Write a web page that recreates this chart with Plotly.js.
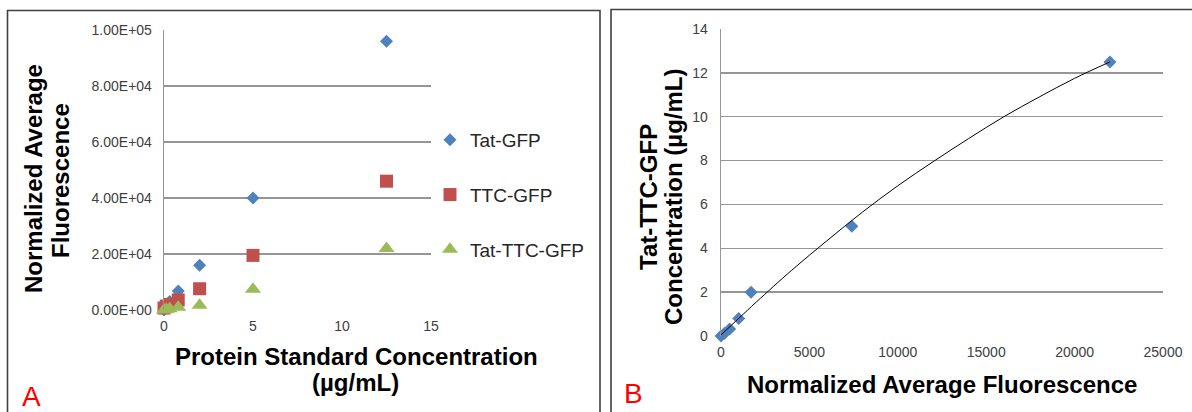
<!DOCTYPE html>
<html>
<head>
<meta charset="utf-8">
<script src="https://cdn.plot.ly/plotly-3.0.1.min.js"></script>
<style>html,body{margin:0;padding:0;background:#fff;}#chart{width:1192px;height:412px;}</style>
</head>
<body>
<div id="chart"></div>
<script>
// Panel A data
var concentrations = [0, 0.128, 0.32, 0.8, 2, 5, 12.5];
var tatGFP = [0, 1000, 3000, 6800, 16000, 40000, 96000];
var ttcGFP = [700, 1400, 2000, 3600, 7600, 19500, 46000];
var tatTtcGFP = [0, 200, 490, 1000, 1700, 7400, 22000];
var seriesNames = ['Tat-GFP', 'TTC-GFP', 'Tat-TTC-GFP'];
var aYTickVals = [0, 20000, 40000, 60000, 80000, 100000];
var aYTickText = ['0.00E+00', '2.00E+04', '4.00E+04', '6.00E+04', '8.00E+04', '1.00E+05'];
var aXTickVals = [0, 5, 10, 15];

// Panel B data
var bFluorescence = [0, 200, 490, 1000, 1700, 7400, 22000];
var bConcentration = [0, 0.128, 0.32, 0.8, 2, 5, 12.5];
var trendX = [0, 1000, 2000, 4000, 6000, 8000, 10000, 12000, 14000, 16000, 18000, 20000, 22000];
var trendY = [0.05, 0.8, 1.55, 3.0, 4.35, 5.65, 6.85, 7.95, 9.0, 10.0, 10.9, 11.75, 12.5];
var bXTickVals = [0, 5000, 10000, 15000, 20000, 25000];
var bXTickText = ['0', '5000', '10000', '15000', '20000', '25000'];
var bYTickVals = [0, 2, 4, 6, 8, 10, 12, 14];

var W = 1192, H = 412;
function px(x) { return x / W; }
function py(y) { return (H - y) / H; }

var FONT = 'Arial, "Liberation Sans", sans-serif';
var GRID = '#969696';
var TICK = '#404040';

var traces = [
  {x: concentrations, y: tatGFP, name: seriesNames[0], type: 'scatter', mode: 'markers',
   xaxis: 'x', yaxis: 'y', cliponaxis: false, legendgroup: 'a',
   marker: {symbol: 'diamond', size: 10, color: '#4F81BD'}},
  {x: concentrations, y: ttcGFP, name: seriesNames[1], type: 'scatter', mode: 'markers',
   xaxis: 'x', yaxis: 'y', cliponaxis: false, legendgroup: 'b',
   marker: {symbol: 'square', size: 13, color: '#C0504D'}},
  {x: concentrations, y: tatTtcGFP, name: seriesNames[2], type: 'scatter', mode: 'markers',
   xaxis: 'x', yaxis: 'y', cliponaxis: false, legendgroup: 'c',
   marker: {symbol: 'triangle-up', size: 14, color: '#9BBB59'}},
  {x: bFluorescence, y: bConcentration, type: 'scatter', mode: 'markers', showlegend: false,
   xaxis: 'x2', yaxis: 'y2', cliponaxis: false,
   marker: {symbol: 'diamond', size: 10, color: '#4F81BD'}},
  {x: trendX, y: trendY, type: 'scatter', mode: 'lines', showlegend: false,
   xaxis: 'x2', yaxis: 'y2', line: {color: '#000', width: 1, shape: 'spline'}}
];

function ann(text, x, y, size, opts) {
  var a = {text: text, x: px(x), y: py(y), xref: 'paper', yref: 'paper', showarrow: false,
    xanchor: 'center', yanchor: 'middle', font: {family: FONT, size: size, color: '#000'}};
  for (var k in opts) a[k] = opts[k];
  return a;
}

var layout = {
  width: W, height: H,
  margin: {l: 0, r: 0, t: 0, b: 0},
  paper_bgcolor: '#fff', plot_bgcolor: '#fff',
  showlegend: true,
  legend: {x: px(430), y: py(121), xanchor: 'left', yanchor: 'top',
    font: {family: FONT, size: 19, color: '#262626'}, traceorder: 'grouped', tracegroupgap: 27,
    itemwidth: 30, bgcolor: 'rgba(0,0,0,0)'},
  xaxis: {domain: [px(164), px(431)], range: [0, 15], tickvals: aXTickVals,
    showgrid: false, zeroline: false, showline: false, anchor: 'y',
    ticks: '', ticklabelstandoff: 6, tickfont: {family: FONT, size: 14, color: TICK}},
  yaxis: {domain: [py(310), py(30)], range: [0, 100000], tickvals: aYTickVals, ticktext: aYTickText,
    showgrid: true, gridcolor: GRID, gridwidth: 1.3, zeroline: false, showline: true, linecolor: GRID, linewidth: 1.3,
    anchor: 'x', ticks: '', ticklabelstandoff: 8, tickfont: {family: FONT, size: 14, color: TICK}},
  xaxis2: {domain: [px(721), px(1163)], range: [0, 25000], tickvals: bXTickVals, ticktext: bXTickText,
    showgrid: false, zeroline: false, showline: false, anchor: 'y2',
    ticks: '', ticklabelstandoff: 6, tickfont: {family: FONT, size: 14, color: TICK}},
  yaxis2: {domain: [py(336), py(29)], range: [0, 14], tickvals: bYTickVals,
    showgrid: true, gridcolor: GRID, gridwidth: 1.3, zeroline: false, showline: true, linecolor: GRID, linewidth: 1.3,
    anchor: 'x2', ticks: '', ticklabelstandoff: 9, tickfont: {family: FONT, size: 14, color: TICK}},
  shapes: [
    {type: 'rect', xref: 'paper', yref: 'paper', x0: px(7.5), x1: px(600), y0: -0.05, y1: py(10.5),
     line: {color: '#404040', width: 1.6}},
    {type: 'rect', xref: 'paper', yref: 'paper', x0: px(611), x1: 1.05, y0: -0.05, y1: py(9.5),
     line: {color: '#404040', width: 1.6}}
  ],
  annotations: [
    ann('<b>Normalized Average</b>', 33, 179, 24, {textangle: -90}),
    ann('<b>Fluorescence</b>', 60, 180, 24, {textangle: -90}),
    ann('<b>Protein Standard Concentration</b>', 356, 356, 24),
    ann('<b>(µg/mL)</b>', 355, 382, 24),
    ann('<b>Tat-TTC-GFP</b>', 648, 197, 24, {textangle: -90}),
    ann('<b>Concentration (µg/mL)</b>', 673, 197, 24, {textangle: -90}),
    ann('<b>Normalized Average Fluorescence</b>', 942, 384, 24),
    ann('A', 31, 396, 28, {font: {family: FONT, size: 28, color: '#FF0000'}}),
    ann('B', 633, 393, 28, {font: {family: FONT, size: 28, color: '#FF0000'}})
  ]
};

Plotly.newPlot('chart', traces, layout, {displayModeBar: false, staticPlot: true});
</script>
</body>
</html>
